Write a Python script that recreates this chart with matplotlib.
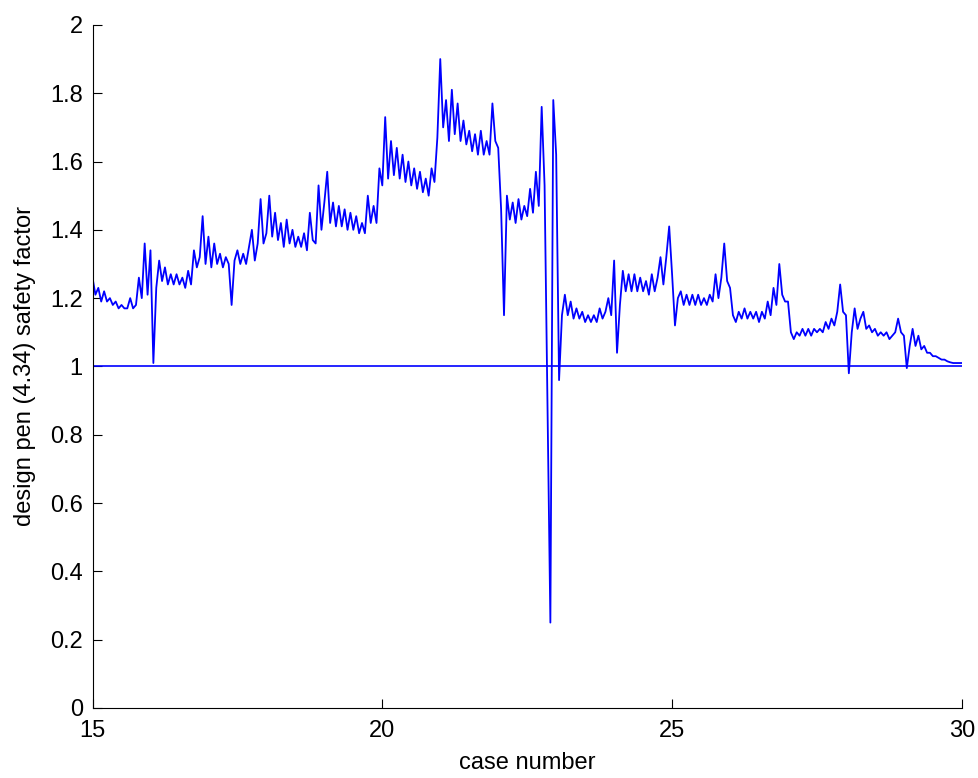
import numpy as np
import matplotlib
matplotlib.use('Agg')
import matplotlib.pyplot as plt

plt.rcParams['font.family'] = ['Liberation Sans', 'DejaVu Sans']

# safety factor, one row per case unit (step 0.05)
safety_factor = [
    1.26, 1.21, 1.23, 1.19, 1.22, 1.19, 1.20, 1.18, 1.19, 1.17, 1.18, 1.17, 1.17, 1.20, 1.17, 1.18, 1.26, 1.20, 1.36, 1.21,
    1.34, 1.01, 1.23, 1.31, 1.25, 1.29, 1.24, 1.27, 1.24, 1.27, 1.24, 1.26, 1.23, 1.28, 1.24, 1.34, 1.29, 1.32, 1.44, 1.30,
    1.38, 1.29, 1.36, 1.30, 1.33, 1.29, 1.32, 1.30, 1.18, 1.31, 1.34, 1.30, 1.33, 1.30, 1.35, 1.40, 1.31, 1.36, 1.49, 1.36,
    1.39, 1.50, 1.38, 1.45, 1.37, 1.42, 1.35, 1.43, 1.36, 1.40, 1.35, 1.38, 1.35, 1.39, 1.34, 1.45, 1.37, 1.36, 1.53, 1.40,
    1.48, 1.57, 1.42, 1.48, 1.41, 1.47, 1.41, 1.46, 1.40, 1.45, 1.40, 1.44, 1.39, 1.42, 1.39, 1.50, 1.42, 1.47, 1.42, 1.58,
    1.53, 1.73, 1.55, 1.66, 1.56, 1.64, 1.55, 1.62, 1.54, 1.60, 1.53, 1.58, 1.52, 1.57, 1.51, 1.55, 1.50, 1.58, 1.54, 1.67,
    1.90, 1.70, 1.78, 1.66, 1.81, 1.68, 1.77, 1.66, 1.72, 1.65, 1.69, 1.63, 1.68, 1.62, 1.69, 1.62, 1.66, 1.62, 1.77, 1.66,
    1.64, 1.46, 1.15, 1.50, 1.43, 1.48, 1.42, 1.49, 1.43, 1.47, 1.44, 1.52, 1.45, 1.57, 1.47, 1.76, 1.53, 0.88, 0.25, 1.78,
    1.62, 0.96, 1.15, 1.21, 1.15, 1.19, 1.14, 1.17, 1.14, 1.16, 1.13, 1.15, 1.13, 1.15, 1.13, 1.17, 1.14, 1.16, 1.20, 1.15,
    1.31, 1.04, 1.18, 1.28, 1.22, 1.27, 1.22, 1.27, 1.22, 1.26, 1.22, 1.25, 1.21, 1.27, 1.22, 1.26, 1.32, 1.24, 1.32, 1.41,
    1.27, 1.12, 1.20, 1.22, 1.18, 1.21, 1.18, 1.21, 1.18, 1.21, 1.18, 1.20, 1.18, 1.21, 1.19, 1.27, 1.20, 1.26, 1.36, 1.25,
    1.23, 1.15, 1.13, 1.16, 1.14, 1.17, 1.14, 1.16, 1.14, 1.16, 1.13, 1.16, 1.14, 1.19, 1.15, 1.23, 1.18, 1.30, 1.21, 1.19,
    1.19, 1.10, 1.08, 1.10, 1.09, 1.11, 1.09, 1.11, 1.09, 1.11, 1.10, 1.11, 1.10, 1.13, 1.11, 1.14, 1.12, 1.16, 1.24, 1.16,
    1.15, 0.98, 1.10, 1.17, 1.11, 1.14, 1.16, 1.11, 1.12, 1.10, 1.11, 1.09, 1.10, 1.09, 1.10, 1.08, 1.09, 1.10, 1.14, 1.10,
    1.09, 0.995, 1.06, 1.11, 1.06, 1.09, 1.05, 1.06, 1.04, 1.04, 1.03, 1.03, 1.025, 1.02, 1.02, 1.015, 1.012, 1.01, 1.01, 1.01,
    1.01,
]
case_start, case_end = 15, 30
case_number = np.linspace(case_start, case_end, len(safety_factor))
ref_level = 1.0

xticks = [15, 20, 25, 30]
yticks = [0, 0.2, 0.4, 0.6, 0.8, 1, 1.2, 1.4, 1.6, 1.8, 2]
ytick_labels = ['0', '0.2', '0.4', '0.6', '0.8', '1', '1.2', '1.4', '1.6', '1.8', '2']

fig = plt.figure(figsize=(9.79, 7.78), dpi=100)
ax = fig.add_axes([0.0945, 0.09, 0.888, 0.878])

ax.plot(case_number, safety_factor, color='#0000ff', linewidth=1.3)
ax.axhline(ref_level, color='#0000ff', linewidth=1.2)

ax.set_xlim(case_start, case_end)
ax.set_ylim(0, 2)
ax.set_xticks(xticks)
ax.set_xticklabels([str(t) for t in xticks])
ax.set_yticks(yticks)
ax.set_yticklabels(ytick_labels)

ax.spines['top'].set_visible(False)
ax.spines['right'].set_visible(False)
for s in ['left', 'bottom']:
    ax.spines[s].set_linewidth(0.8)
    ax.spines[s].set_color('black')

ax.tick_params(direction='in', length=6.5, width=0.8, labelsize=17, colors='black')
ax.tick_params(axis='y', pad=7)
ax.tick_params(axis='x', pad=9)

ax.set_xlabel('case number', fontsize=17, labelpad=7)
ax.set_ylabel('design pen (4.34) safety factor', fontsize=17, labelpad=10)

fig.savefig('out.png', dpi=100, facecolor='white')
